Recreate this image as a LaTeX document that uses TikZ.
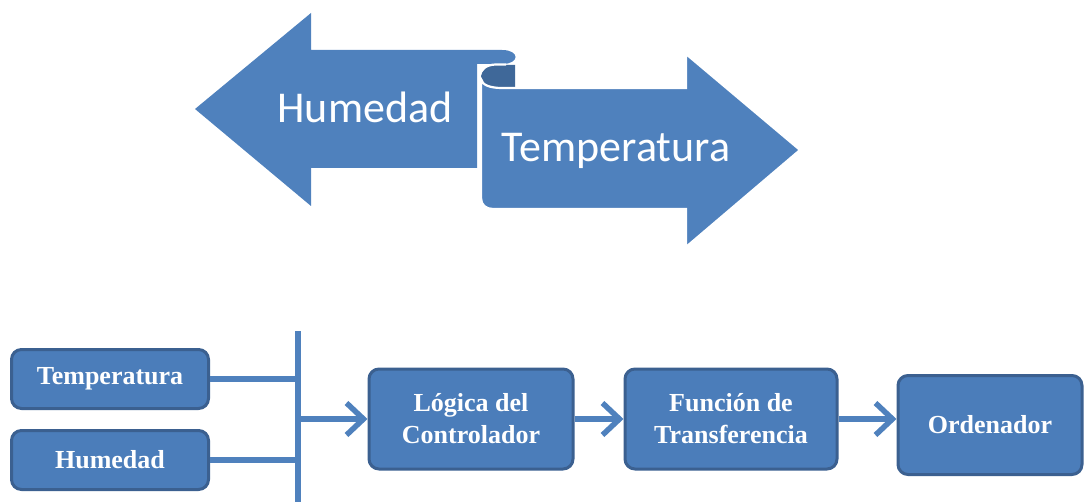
\documentclass[tikz,border=0pt]{standalone}
\usepackage{fontspec}
\setmainfont{Liberation Serif}
\newfontfamily\calfont{Carlito}
\usetikzlibrary{arrows.meta}
\definecolor{myblue}{HTML}{4F81BD}
\definecolor{boxfill}{HTML}{4B7DBA}
\definecolor{boxborder}{HTML}{3B6090}
\definecolor{scrolldark}{HTML}{3F6899}
\tikzset{
  blk/.style={draw=boxborder, line width=3pt, fill=boxfill, rounded corners=10pt,
    text=white, font=\fontsize{26}{32}\selectfont\bfseries, align=center, inner sep=0pt},
  conn/.style={draw=myblue, line width=5.5pt},
  arr/.style={-{Straight Barb[length=17pt,width=32pt]}},
  toptext/.style={text=white, font=\calfont\fontsize{44}{50}\selectfont, inner sep=0pt, anchor=base}
}
\begin{document}
\begin{tikzpicture}[x=1pt,y=-1pt]
\useasboundingbox (0,0) rectangle (1086,502);
% left arrow
\fill[myblue] (195,109) -- (311,13) -- (311,50) -- (502,50)
  .. controls (520,50) and (520,64) .. (502,64) -- (477,64) -- (477,168)
  -- (311,168) -- (311,206) -- cycle;
% scroll interior
\fill[scrolldark] (496,65) -- (515,65) -- (515,88) -- (500,88)
  .. controls (489,88) and (481,85) .. (481,78)
  .. controls (481,70) and (487,65) .. (496,65) -- cycle;
% right arrow
\filldraw[fill=myblue, draw=white, line width=2.2pt] (481,79)
  .. controls (482,85) and (490,88) .. (502,88) -- (686,88) -- (686,54)
  -- (800,150) -- (686,247) -- (686,209) -- (493,209)
  .. controls (486,209) and (481,205) .. (481,198) -- cycle;
% curl outline
\draw[white, line width=2.2pt] (506,64.5) -- (496,64.5)
  .. controls (486,64.5) and (479.5,70) .. (479.5,78) -- (479.5,92);
\node[toptext] (humtxt) at (365,123) {Humedad};
\node[toptext] (temptxt) at (616,162) {Temperatura};

% bottom block diagram
\node[blk, minimum width=197pt, minimum height=59pt] (tbox) at (110,379) {Temperatura};
\node[blk, minimum width=197pt, minimum height=59pt] (hbox) at (110,460) {Humedad};
\node[blk, minimum width=204pt, minimum height=100pt] (lbox) at (471,419) {Lógica del\\Controlador};
\node[blk, minimum width=212pt, minimum height=100pt] (fbox) at (731,419) {Función de\\Transferencia};
\node[blk, minimum width=184pt, minimum height=99pt] (obox) at (990,425) {Ordenador};
\coordinate (bustop) at (298,331);
\coordinate (busbot) at (298,502);
\coordinate (busmid) at (298,419);
\draw[conn] (bustop) -- (busbot);
\draw[conn] (tbox.east) -- (tbox.east -| bustop);
\draw[conn] (hbox.east) -- (hbox.east -| bustop);
\draw[conn, arr] (busmid) -- (lbox.west);
\draw[conn, arr] (lbox.east) -- (fbox.west);
\draw[conn, arr] (fbox.east) -- (fbox.east -| obox.west);
\end{tikzpicture}
\end{document}
